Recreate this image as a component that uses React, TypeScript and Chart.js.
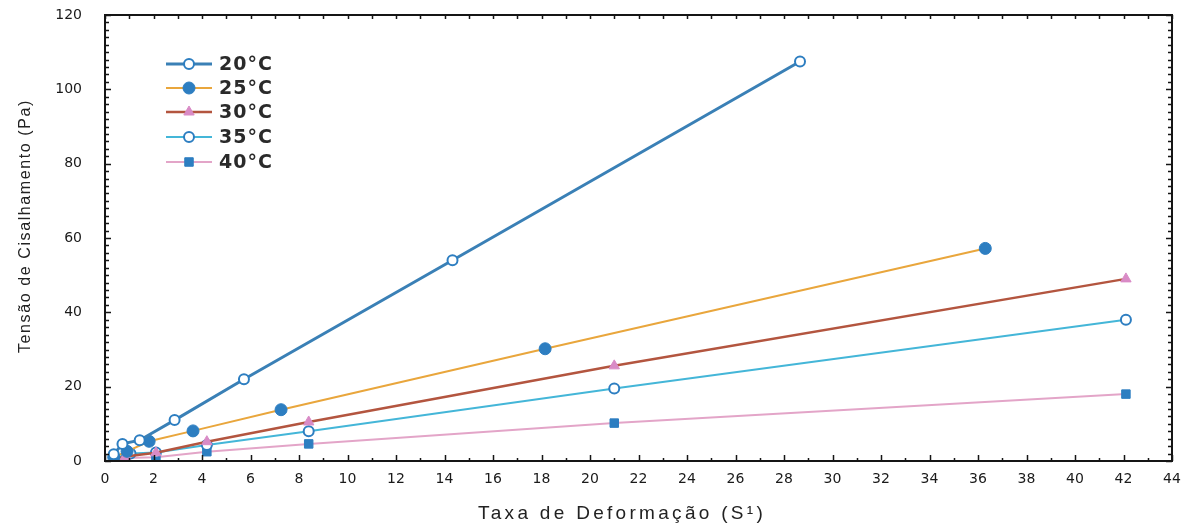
import React, { useEffect, useRef } from 'react';
import { Chart, registerables } from 'chart.js';
import { drawPoint } from 'chart.js/helpers';

Chart.register(...registerables);

// ---- data ----
const SERIES_LABELS = ['20°C', '25°C', '30°C', '35°C', '40°C'];

const X_20 = [0.36, 0.72, 1.43, 2.87, 5.73, 14.33, 28.66];
const Y_20 = [1.8, 4.6, 5.6, 11.0, 22.0, 54.0, 107.5];

const X_25 = [0.36, 0.91, 1.82, 3.63, 7.26, 18.15, 36.3];
const Y_25 = [1.0, 2.6, 5.3, 8.1, 13.8, 30.2, 57.2];

const X_30 = [0.42, 0.84, 2.1, 4.2, 8.4, 21.0, 42.1];
const Y_30 = [0.5, 1.2, 2.2, 5.2, 10.5, 25.6, 49.0];

const X_35 = [0.42, 1.05, 2.1, 4.2, 8.4, 21.0, 42.1];
const Y_35 = [0.6, 2.0, 2.3, 4.3, 8.0, 19.5, 38.0];

const X_40 = [0.42, 0.84, 2.1, 4.2, 8.4, 21.0, 42.1];
const Y_40 = [0.3, 0.8, 1.0, 2.5, 4.6, 10.2, 18.0];

const X_TITLE = 'Taxa de Deformação (S¹)';
const Y_TITLE = 'Tensão de Cisalhamento (Pa)';

const X_MIN = 0, X_MAX = 44, X_STEP = 2;
const Y_MIN = 0, Y_MAX = 120, Y_STEP = 20;

const pts = (xs: number[], ys: number[]) => xs.map((x, i) => ({ x, y: ys[i] }));

const MARK_BLUE = '#2d7ec1';

const STYLES = [
  { line: '#3a80b6', width: 3, style: 'circle', radius: 5, fill: '#ffffff', border: MARK_BLUE, bw: 2 },
  { line: '#e9a63c', width: 2, style: 'circle', radius: 6, fill: MARK_BLUE, border: MARK_BLUE, bw: 1 },
  { line: '#b3553f', width: 2.5, style: 'triangle', radius: 6, fill: '#d98bc6', border: '#d98bc6', bw: 1 },
  { line: '#44b6d8', width: 2, style: 'circle', radius: 5, fill: '#ffffff', border: MARK_BLUE, bw: 2 },
  { line: '#e3a5c8', width: 2, style: 'rect', radius: 6, fill: MARK_BLUE, border: MARK_BLUE, bw: 1 },
];

const SERIES_DATA = [pts(X_20, Y_20), pts(X_25, Y_25), pts(X_30, Y_30), pts(X_35, Y_35), pts(X_40, Y_40)];

const decorPlugin = {
  id: 'decor',
  afterDraw(chart: any) {
    const ctx = chart.ctx as CanvasRenderingContext2D;
    const { left, right, top, bottom } = chart.chartArea;
    const xs = chart.scales.x;
    const ys = chart.scales.y;
    ctx.save();
    // frame
    ctx.strokeStyle = '#151515';
    ctx.lineWidth = 2;
    ctx.strokeRect(left, top, right - left, bottom - top);
    // inward ticks
    ctx.lineWidth = 1.5;
    ctx.beginPath();
    for (let v = X_MIN; v <= X_MAX; v += 1) {
      const px = Math.round(xs.getPixelForValue(v)) + 0.5;
      const len = v % 2 === 0 ? 6 : 3;
      ctx.moveTo(px, bottom);
      ctx.lineTo(px, bottom - len);
      ctx.moveTo(px, top);
      ctx.lineTo(px, top + 4);
    }
    for (let v = Y_MIN; v <= Y_MAX; v += 2) {
      const py = Math.round(ys.getPixelForValue(v)) + 0.5;
      const len = v % 20 === 0 ? 6 : 4;
      ctx.moveTo(left, py);
      ctx.lineTo(left + len, py);
      ctx.moveTo(right, py);
      ctx.lineTo(right - len, py);
    }
    ctx.stroke();

    // axis titles
    ctx.fillStyle = '#222';
    ctx.textAlign = 'center';
    ctx.textBaseline = 'middle';
    (ctx as any).letterSpacing = '3.3px';
    ctx.font = '19px "Liberation Sans", Arial, sans-serif';
    ctx.fillText(X_TITLE, 622, 514);
    (ctx as any).letterSpacing = '1.6px';
    ctx.font = '16px "Liberation Sans", Arial, sans-serif';
    ctx.save();
    ctx.translate(26, 226);
    ctx.rotate(-Math.PI / 2);
    ctx.fillText(Y_TITLE, 0, 0);
    ctx.restore();

    // legend
    const rows = [64, 88, 112, 137, 162];
    chart.data.datasets.forEach((ds: any, i: number) => {
      const st = STYLES[i];
      const y = rows[i];
      ctx.strokeStyle = st.line;
      ctx.lineWidth = st.width;
      ctx.beginPath();
      ctx.moveTo(166, y);
      ctx.lineTo(212, y);
      ctx.stroke();
      ctx.fillStyle = st.fill;
      ctx.strokeStyle = st.border;
      ctx.lineWidth = st.bw;
      drawPoint(ctx, { pointStyle: st.style, radius: st.radius, rotation: 0, borderWidth: st.bw } as any, 189, y);
      ctx.fillStyle = '#2a2a2a';
      ctx.textAlign = 'left';
      ctx.textBaseline = 'middle';
      (ctx as any).letterSpacing = '1px';
      ctx.font = 'bold 19px "DejaVu Sans", sans-serif';
      ctx.fillText(ds.label, 219, y + 1);
    });
    (ctx as any).letterSpacing = '0px';
    ctx.restore();
  },
};

export default function App() {
  const ref = useRef<HTMLCanvasElement | null>(null);
  useEffect(() => {
    if (!ref.current) return;
    const chart = new Chart(ref.current, {
      type: 'line',
      data: {
        datasets: SERIES_DATA.map((d, i) => ({
          label: SERIES_LABELS[i],
          data: d,
          borderColor: STYLES[i].line,
          borderWidth: STYLES[i].width,
          pointStyle: STYLES[i].style as any,
          pointRadius: STYLES[i].radius,
          pointBackgroundColor: STYLES[i].fill,
          pointBorderColor: STYLES[i].border,
          pointBorderWidth: STYLES[i].bw,
          tension: 0,
          fill: false,
        })),
      },
      options: {
        animation: false,
        responsive: false,
        devicePixelRatio: 1,
        layout: { padding: { top: 15, right: 14, bottom: 0, left: 0 } },
        plugins: { legend: { display: false }, tooltip: { enabled: false }, title: { display: false } },
        scales: {
          x: {
            type: 'linear',
            min: X_MIN,
            max: X_MAX,
            grid: { display: false, drawTicks: false },
            border: { display: false },
            ticks: {
              stepSize: X_STEP,
              autoSkip: false,
              maxTicksLimit: 100,
              maxRotation: 0,
              padding: 10,
              color: '#1a1a1a',
              font: { family: '"DejaVu Sans", sans-serif', size: 14 },
            },
            afterFit(scale: any) {
              scale.height = 69;
              scale.paddingLeft = 0;
              scale.paddingRight = 0;
            },
          },
          y: {
            type: 'linear',
            min: Y_MIN,
            max: Y_MAX,
            grid: { display: false, drawTicks: false },
            border: { display: false },
            ticks: {
              stepSize: Y_STEP,
              autoSkip: false,
              padding: 23,
              color: '#1a1a1a',
              font: { family: '"DejaVu Sans", sans-serif', size: 14 },
            },
            afterFit(scale: any) {
              scale.width = 105;
              scale.paddingTop = 0;
              scale.paddingBottom = 0;
            },
          },
        },
      },
      plugins: [decorPlugin],
    });
    return () => chart.destroy();
  }, []);
  return (
    <div style={{ position: 'absolute', left: 0, top: 0, width: 1186, height: 530, background: '#fff' }}>
      <canvas ref={ref} width={1186} height={530} style={{ display: 'block' }} />
    </div>
  );
}
